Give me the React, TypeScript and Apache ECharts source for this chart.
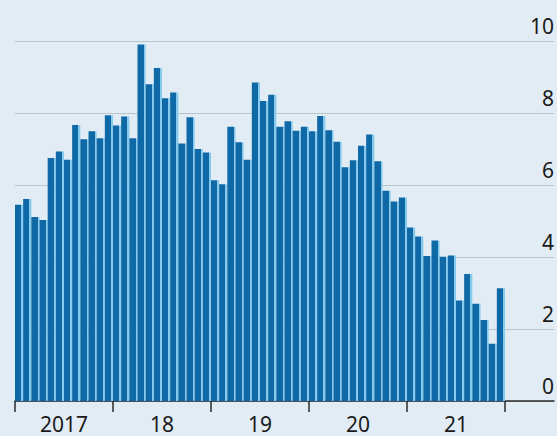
import React, { useEffect, useRef } from "react";
import * as echarts from "echarts";

// Monthly values, January to December of each year
const values2017 = [5.45, 5.61, 5.11, 5.03, 6.75, 6.93, 6.7, 7.67, 7.27, 7.49, 7.3, 7.94];
const values2018 = [7.65, 7.9, 7.3, 9.9, 8.8, 9.25, 8.41, 8.57, 7.15, 7.88, 7.0, 6.9];
const values2019 = [6.13, 6.02, 7.62, 7.19, 6.7, 8.85, 8.33, 8.51, 7.62, 7.77, 7.51, 7.62];
const values2020 = [7.49, 7.92, 7.52, 7.2, 6.49, 6.69, 7.09, 7.4, 6.66, 5.84, 5.54, 5.65];
const values2021 = [4.82, 4.57, 4.03, 4.46, 4.01, 4.04, 2.79, 3.53, 2.7, 2.25, 1.59, 3.13];

const years = [2017, 2018, 2019, 2020, 2021];
const yearLabels = ["2017", "18", "19", "20", "21"];
const yTicks = [0, 2, 4, 6, 8, 10];

const BG = "#e1ecf4";
const FONT = "'Noto Sans', sans-serif";
const INK = "#1a1a1a";

export default function App() {
  const ref = useRef<HTMLDivElement>(null);

  useEffect(() => {
    if (!ref.current) return;
    const chart = echarts.init(ref.current, null, { renderer: "svg" });

    const values = [...values2017, ...values2018, ...values2019, ...values2020, ...values2021];
    const months: string[] = [];
    years.forEach((y) => {
      for (let m = 1; m <= 12; m++) months.push(`${y}-${String(m).padStart(2, "0")}`);
    });

    const barColor = new echarts.graphic.LinearGradient(0, 0, 1, 0, [
      { offset: 0, color: "#0e69a6" },
      { offset: 0.76, color: "#0e69a6" },
      { offset: 0.76, color: "#86cbed" },
      { offset: 1, color: "#86cbed" },
    ]);

    chart.setOption({
      animation: false,
      backgroundColor: BG,
      grid: [
        // full-width frame: gridlines, value labels and the baseline
        { left: 15, right: 3, top: 41, bottom: 35, containLabel: false },
        // the monthly bars
        { left: 15, right: 52, top: 41, bottom: 35, containLabel: false },
      ],
      xAxis: [
        {
          type: "value",
          gridIndex: 0,
          min: 0,
          max: 1,
          axisLine: { show: true, onZero: false, lineStyle: { color: "#2a2a2a", width: 1.5 } },
          axisTick: { show: false },
          axisLabel: { show: false },
          splitLine: { show: false },
        },
        {
          type: "category",
          gridIndex: 1,
          data: months,
          boundaryGap: true,
          axisLine: { show: false },
          axisTick: {
            show: true,
            length: 11,
            interval: (i: number) => i % 12 === 0,
            lineStyle: { color: "#2a2a2a", width: 1.5 },
          },
          axisLabel: {
            interval: (i: number) => i % 12 === 6,
            formatter: (_v: string, i: number) => yearLabels[Math.floor(i / 12)] ?? "",
            margin: 14,
            fontSize: 21,
            lineHeight: 17,
            fontFamily: FONT,
            color: INK,
            padding: [0, 8, 0, 0],
          },
          splitLine: { show: false },
        },
      ],
      yAxis: [
        {
          type: "value",
          gridIndex: 0,
          position: "right",
          min: 0,
          max: 10,
          interval: 2,
          axisLine: { show: false },
          axisTick: { show: false },
          axisLabel: {
            inside: true,
            margin: 0,
            align: "right",
            verticalAlign: "bottom",
            padding: [0, 0, 5, 0],
            fontSize: 21,
            fontFamily: FONT,
            color: INK,
            formatter: (v: number) => (yTicks.includes(v) ? String(v) : ""),
          },
          splitLine: { show: true, lineStyle: { color: "#b9c4cb", width: 1.2 } },
        },
        {
          type: "value",
          gridIndex: 1,
          min: 0,
          max: 10,
          interval: 2,
          show: false,
          splitLine: { show: false },
        },
      ],
      series: [
        {
          type: "bar",
          xAxisIndex: 1,
          yAxisIndex: 1,
          data: values,
          barCategoryGap: "0%",
          itemStyle: { color: barColor },
          z: 1,
        },
      ],
    });

    return () => chart.dispose();
  }, []);

  return (
    <div
      ref={ref}
      style={{ position: "fixed", left: 0, top: 0, width: 557, height: 436, background: BG }}
    />
  );
}
